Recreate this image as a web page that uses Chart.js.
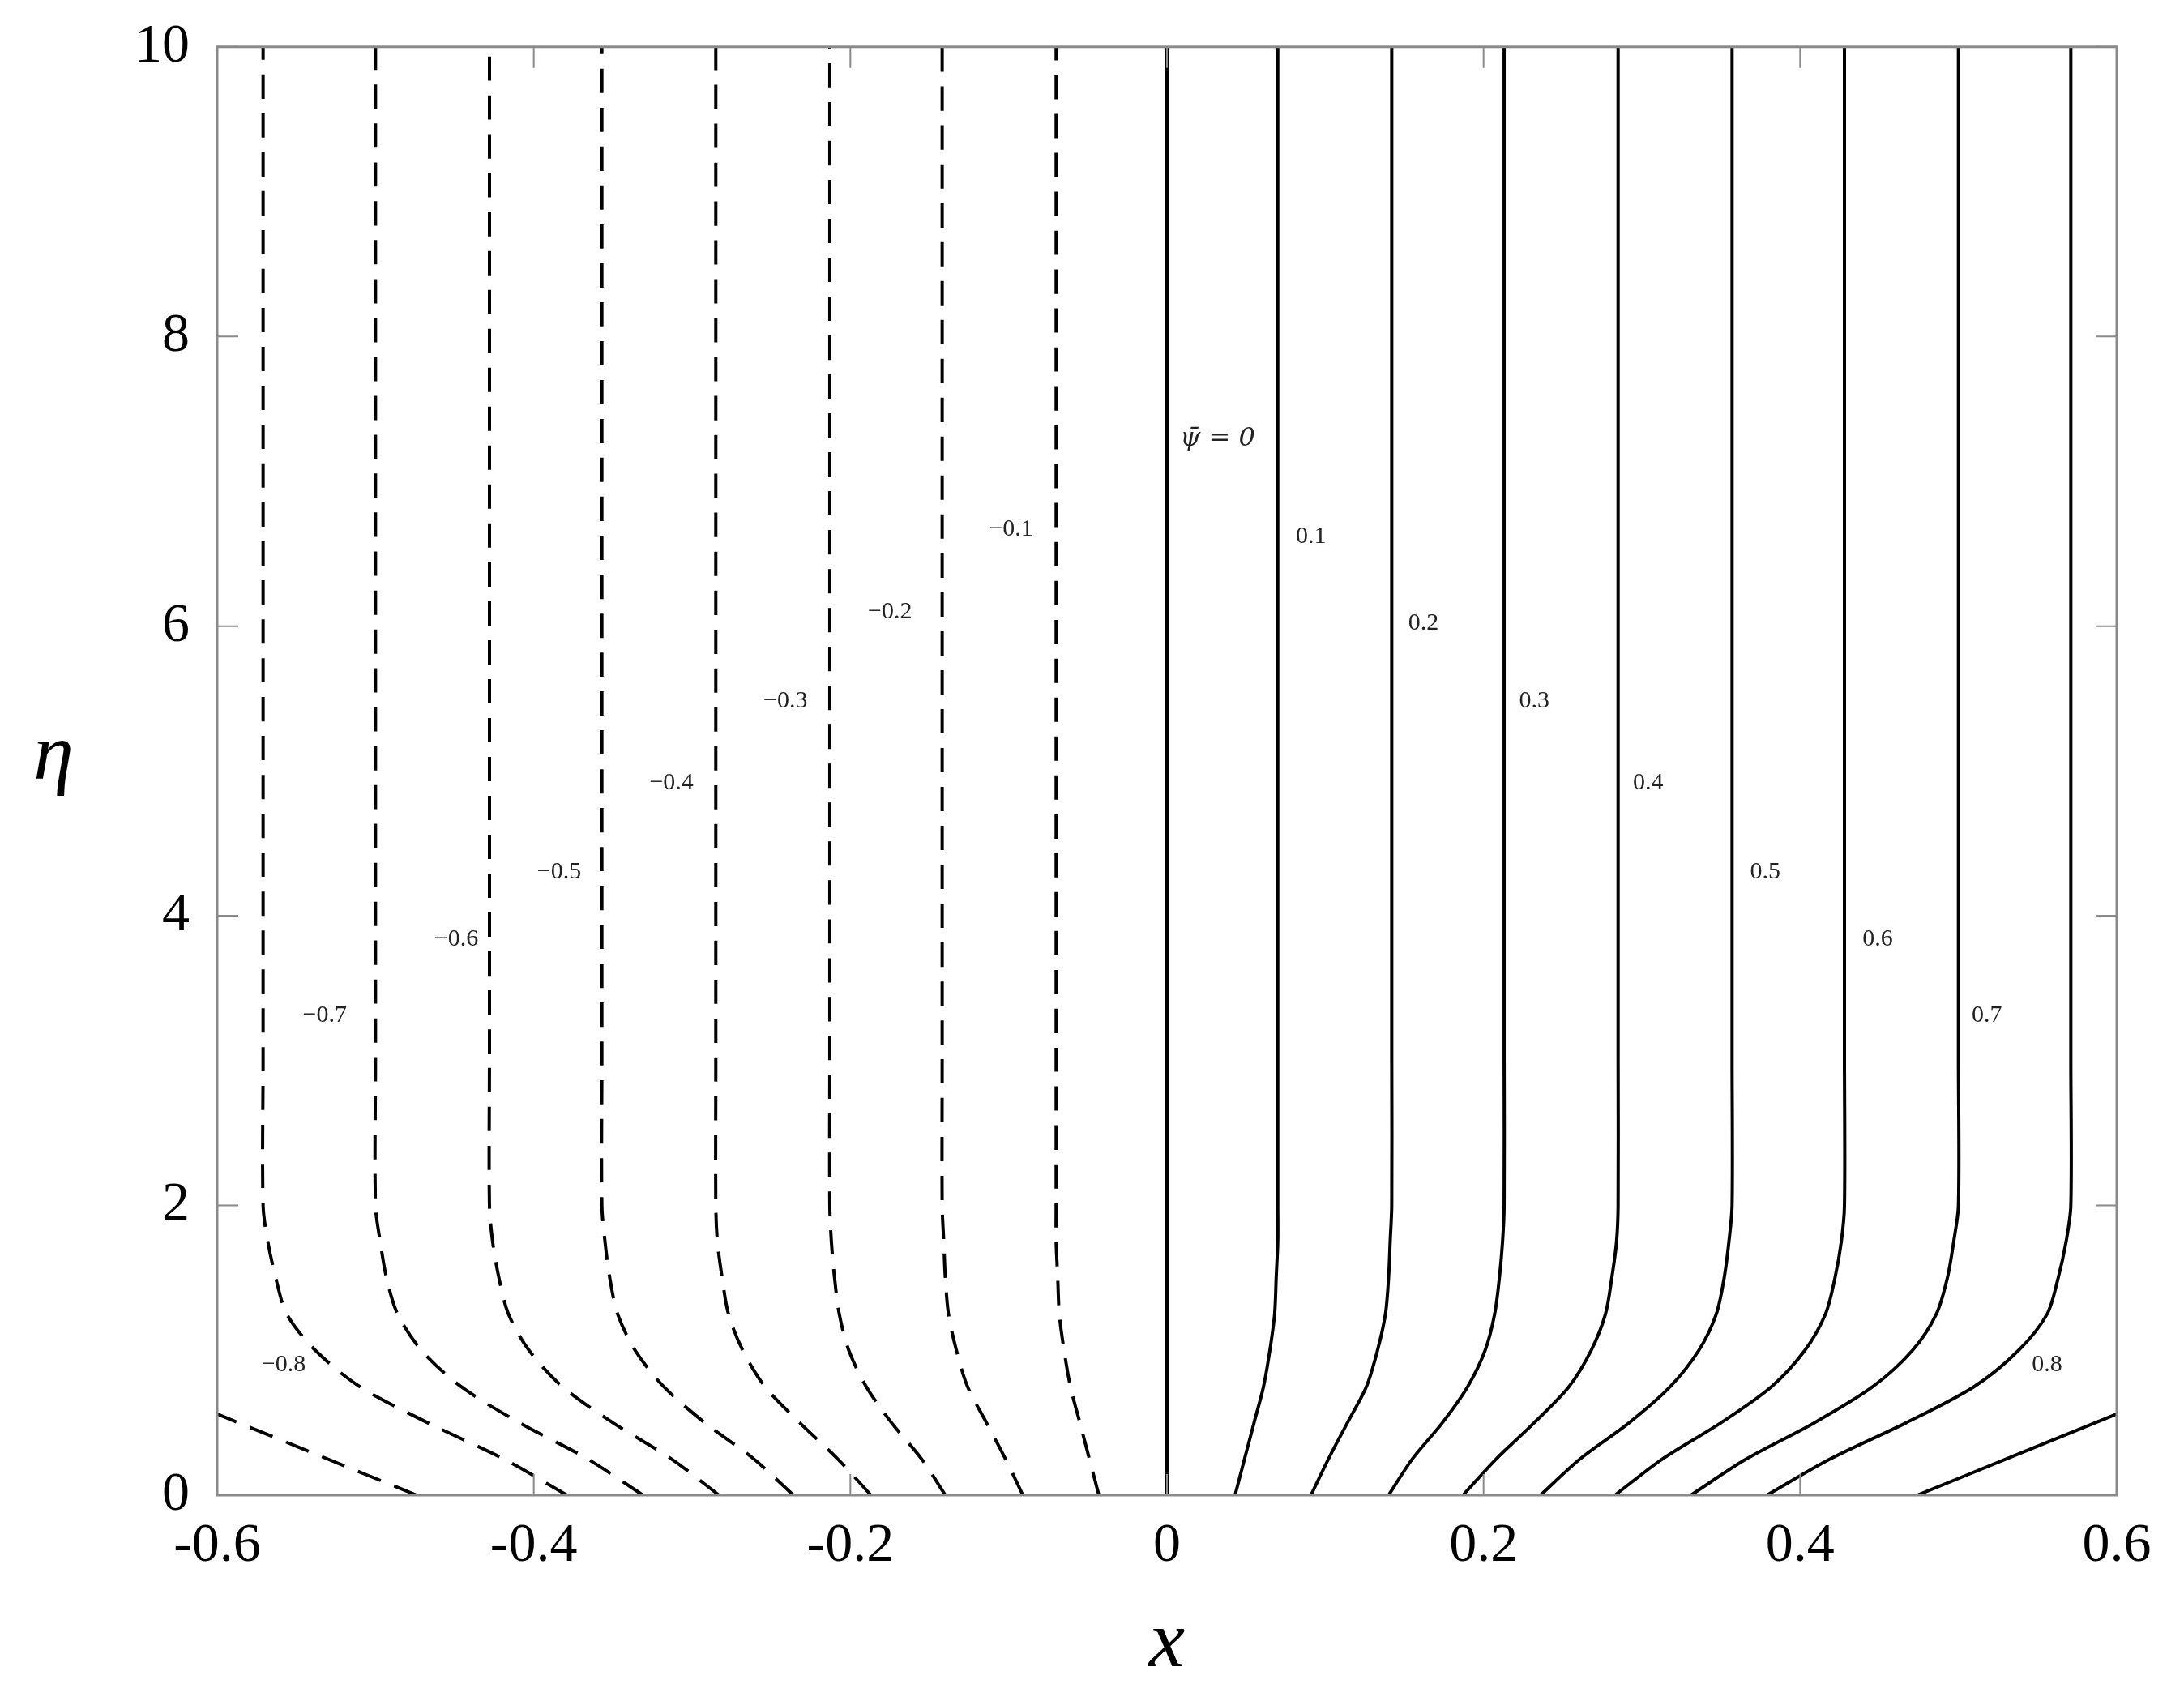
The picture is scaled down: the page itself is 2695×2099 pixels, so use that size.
<!DOCTYPE html>
<html><head><meta charset="utf-8">
<script src="https://cdn.jsdelivr.net/npm/chart.js@4/dist/chart.umd.min.js"></script>
<style>html,body{margin:0;padding:0;background:#fff;overflow:hidden;}canvas{display:block;margin-top:-17px;}</style>
</head><body>
<canvas id="c" width="2695" height="2116"></canvas>
<script>
// eta sample points shared by the curves
const etaSamples = [0, 0.25, 0.5, 0.75, 1.0, 1.25, 1.5, 1.75, 2, 3, 10];
// positive stream-function levels (solid)
const psi0  = [0,0,0,0,0,0,0,0,0,0,0];
const psiP1 = [0.043,0.049,0.055,0.061,0.065,0.068,0.069,0.070,0.070,0.070,0.070];
const psiP2 = [0.091,0.102,0.114,0.126,0.133,0.138,0.140,0.141,0.142,0.142,0.142];
const psiP3 = [0.140,0.155,0.174,0.190,0.201,0.207,0.210,0.212,0.213,0.213,0.213];
const psiP4 = [0.187,0.208,0.232,0.254,0.268,0.277,0.281,0.284,0.285,0.285,0.285];
const psiP5 = [0.236,0.261,0.292,0.318,0.336,0.347,0.352,0.355,0.357,0.357,0.357];
const psiP6 = [0.283,0.313,0.350,0.382,0.403,0.416,0.422,0.426,0.428,0.428,0.428];
const psiP7 = [0.331,0.366,0.409,0.446,0.471,0.486,0.493,0.497,0.500,0.500,0.500];
const psiP8 = [0.379,0.419,0.467,0.510,0.538,0.556,0.563,0.568,0.571,0.571,0.571];
const psiP9x = [0.474, 0.537, 0.600];
const psiP9eta = [0, 0.28, 0.56];
// negative levels (dashed)
const psiN1 = [-0.043,-0.049,-0.055,-0.061,-0.065,-0.068,-0.069,-0.070,-0.070,-0.070,-0.070];
const psiN2 = [-0.091,-0.102,-0.114,-0.126,-0.133,-0.138,-0.140,-0.141,-0.142,-0.142,-0.142];
const psiN3 = [-0.140,-0.155,-0.174,-0.190,-0.201,-0.207,-0.210,-0.212,-0.213,-0.213,-0.213];
const psiN4 = [-0.187,-0.208,-0.232,-0.254,-0.268,-0.277,-0.281,-0.284,-0.285,-0.285,-0.285];
const psiN5 = [-0.236,-0.261,-0.292,-0.318,-0.336,-0.347,-0.352,-0.355,-0.357,-0.357,-0.357];
const psiN6 = [-0.283,-0.313,-0.350,-0.382,-0.403,-0.416,-0.422,-0.426,-0.428,-0.428,-0.428];
const psiN7 = [-0.331,-0.366,-0.409,-0.446,-0.471,-0.486,-0.493,-0.497,-0.500,-0.500,-0.500];
const psiN8 = [-0.379,-0.419,-0.467,-0.510,-0.538,-0.556,-0.563,-0.568,-0.571,-0.571,-0.571];
const psiN9x = [-0.474, -0.537, -0.600];
const psiN9eta = [0, 0.28, 0.56];
// contour labels
const labelText = ['\u03C8\u0304 = 0','0.1','0.2','0.3','0.4','0.5','0.6','0.7','0.8',
  '\u22120.1','\u22120.2','\u22120.3','\u22120.4','\u22120.5','\u22120.6','\u22120.7','\u22120.8'];
const labelX = [0.032,0.091,0.162,0.232,0.304,0.378,0.449,0.518,0.556,
  -0.0985,-0.175,-0.241,-0.313,-0.384,-0.449,-0.532,-0.558];
const labelY = [7.29,6.62,6.02,5.48,4.92,4.30,3.84,3.31,0.90,
  6.67,6.10,5.48,4.92,4.30,3.84,3.31,0.90];
// tick labels
const xTicks = [-0.6,-0.4,-0.2,0,0.2,0.4,0.6];
const yTicks = [0,2,4,6,8,10];

const pts = (xs, ys) => xs.map((x,i)=>({x:x, y:ys[i]}));
const solid = [psi0,psiP1,psiP2,psiP3,psiP4,psiP5,psiP6,psiP7,psiP8].map(a=>pts(a,etaSamples));
solid.push(pts(psiP9x,psiP9eta));
const dashed = [psiN1,psiN2,psiN3,psiN4,psiN5,psiN6,psiN7,psiN8].map(a=>pts(a,etaSamples));
dashed.push(pts(psiN9x,psiN9eta));

const datasets = [];
solid.forEach(d=>datasets.push({data:d, borderColor:'#000', borderWidth:4, pointRadius:0, showLine:true, tension:0.3}));
dashed.forEach(d=>datasets.push({data:d, borderColor:'#000', borderWidth:4, borderDash:[30,18], pointRadius:0, showLine:true, tension:0.3}));

const SERIF = '"Liberation Serif", "DejaVu Serif", serif';
const deco = {
  id:'deco',
  afterDatasetsDraw(chart){
    const ctx = chart.ctx, a = chart.chartArea, xs = chart.scales.x, ys = chart.scales.y;
    ctx.save();
    ctx.fillStyle = '#222';
    ctx.textAlign = 'center'; ctx.textBaseline = 'middle';
    labelText.forEach((t,i)=>{
      ctx.font = (i===0 ? 'italic 32px "DejaVu Serif", serif' : '30px ' + SERIF);
      ctx.fillText(t, xs.getPixelForValue(labelX[i]), ys.getPixelForValue(labelY[i]));
    });
    ctx.strokeStyle = '#8a8a8a'; ctx.lineWidth = 3;
    ctx.strokeRect(a.left, a.top, a.right-a.left, a.bottom-a.top);
    ctx.lineWidth = 2;
    const L = 26;
    xTicks.forEach(v=>{
      const p = xs.getPixelForValue(v);
      ctx.beginPath(); ctx.moveTo(p,a.bottom); ctx.lineTo(p,a.bottom-L);
      ctx.moveTo(p,a.top); ctx.lineTo(p,a.top+L); ctx.stroke();
    });
    yTicks.forEach(v=>{
      const p = ys.getPixelForValue(v);
      ctx.beginPath(); ctx.moveTo(a.left,p); ctx.lineTo(a.left+L,p);
      ctx.moveTo(a.right,p); ctx.lineTo(a.right-L,p); ctx.stroke();
    });
    ctx.fillStyle = '#000';
    ctx.font = 'italic 100px ' + SERIF;
    ctx.textAlign = 'center'; ctx.textBaseline = 'middle';
    ctx.fillText('x', (a.left+a.right)/2, 2030+17);
    ctx.fillText('\u03B7', 66, 935+17);
    ctx.restore();
  }
};

new Chart(document.getElementById('c'), {
  type:'scatter',
  data:{datasets},
  options:{
    responsive:false, animation:false, devicePixelRatio:1,
    layout:{padding:{top:57, right:83, left:0, bottom:0}},
    plugins:{legend:{display:false}, tooltip:{enabled:false}},
    scales:{
      x:{type:'linear', min:-0.6, max:0.6,
        afterBuildTicks(s){ s.ticks = xTicks.map(v=>({value:v})); },
        afterFit(s){ s.height = 254; },
        grid:{display:false, drawTicks:false}, border:{display:false},
        ticks:{padding:22, color:'#000', font:{family:SERIF, size:68},
          callback:(v)=> v===0 ? '0' : String(v)}},
      y:{type:'linear', min:0, max:10,
        afterBuildTicks(s){ s.ticks = yTicks.map(v=>({value:v})); },
        afterFit(s){ s.width = 268; },
        grid:{display:false, drawTicks:false}, border:{display:false},
        ticks:{padding:34, color:'#000', font:{family:SERIF, size:68}}}
    }
  },
  plugins:[deco]
});
</script>
</body></html>
